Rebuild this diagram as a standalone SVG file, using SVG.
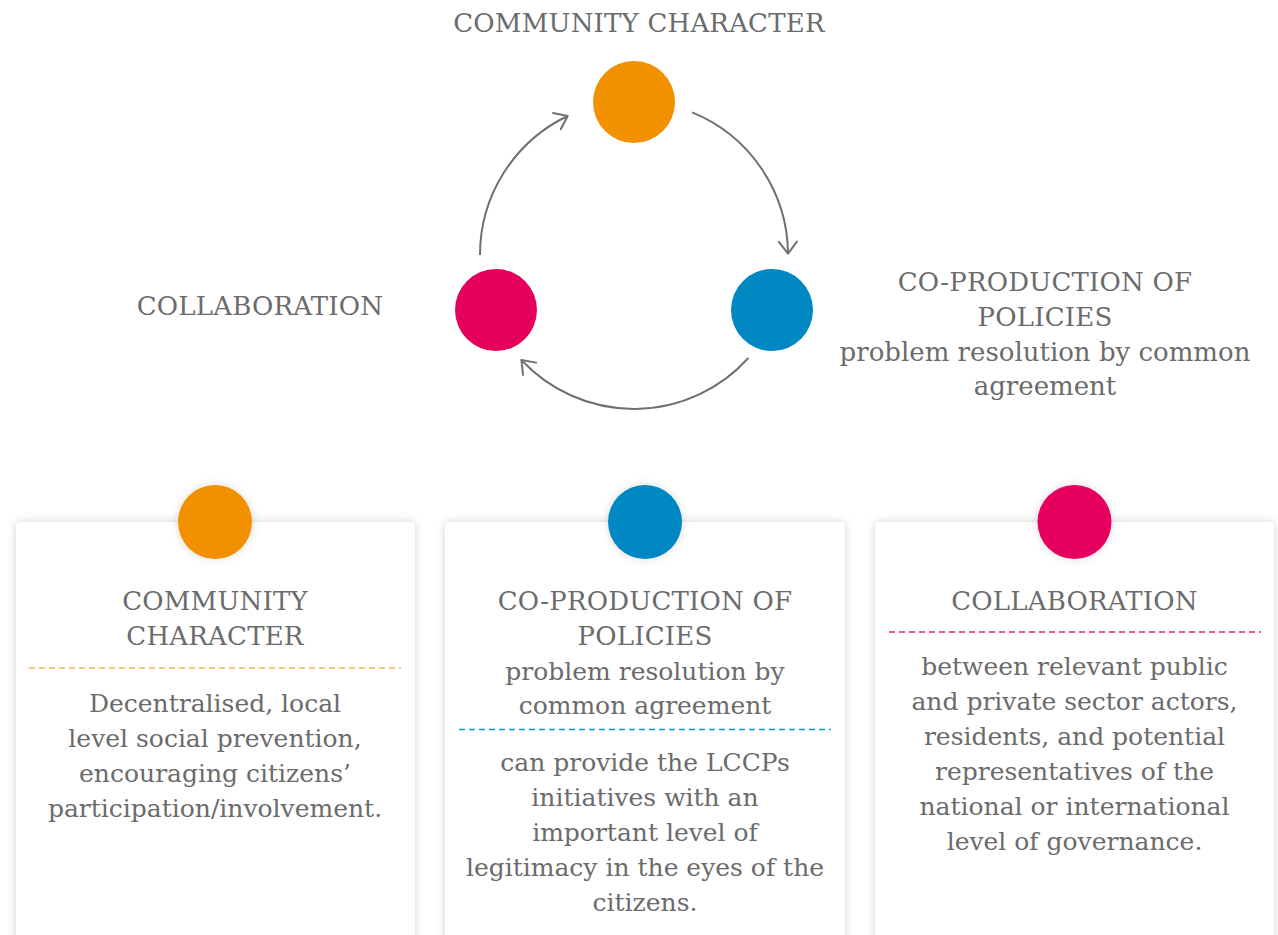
<svg xmlns="http://www.w3.org/2000/svg" width="1278" height="935" viewBox="0 0 1278 935">
  <defs>
    <style>
      .lbl { font-family: "DejaVu Serif", "Liberation Serif", serif; font-size: 26px; fill: #6b6b6b; text-anchor: middle; }
      .cap { letter-spacing: 0.2px; }
      .body { font-size: 25px; }
      .arc { fill: none; stroke: #707070; stroke-width: 2; marker-end: url(#chevron); }
      .card { fill: #ffffff; filter: url(#soft); }
      .dash { fill: none; stroke-width: 1.6; stroke-dasharray: 6 4; }
      .orange { fill: #f29100; }
      .blue { fill: #0088c2; }
      .pink { fill: #e5005e; }
    </style>
    <marker id="chevron" markerUnits="userSpaceOnUse" markerWidth="30" markerHeight="30" viewBox="-15 -15 30 30" refX="0" refY="0" orient="auto">
      <path d="M-12,-9 L0,0 L-12,9" fill="none" stroke="#707070" stroke-width="2" stroke-linecap="round" stroke-linejoin="round"/>
    </marker>
    <filter id="soft" x="-10%" y="-10%" width="120%" height="120%">
      <feDropShadow dx="0" dy="0" stdDeviation="4" flood-color="#000000" flood-opacity="0.18"/>
    </filter>
    <filter id="dotshadow" x="-30%" y="-30%" width="160%" height="160%">
      <feDropShadow dx="0" dy="0" stdDeviation="4" flood-color="#000000" flood-opacity="0.15"/>
    </filter>
  </defs>

  <!-- cycle of the three principles -->
  <g id="connectors">
    <path class="arc" d="M480,255 A154,154 0 0 1 567.7,116"/>
    <path class="arc" d="M692.2,112.4 A154,154 0 0 1 788,253.7"/>
    <path class="arc" d="M748.4,358 A154,154 0 0 1 521.4,360"/>
  </g>

  <g id="node-community">
    <circle class="orange" cx="634" cy="102" r="41"/>
    <text class="lbl cap" x="639" y="32">COMMUNITY CHARACTER</text>
  </g>
  <g id="node-coproduction">
    <circle class="blue" cx="772" cy="310" r="41"/>
    <text class="lbl cap" x="1045" y="291">CO-PRODUCTION OF</text>
    <text class="lbl cap" x="1045" y="326">POLICIES</text>
    <text class="lbl" x="1045" y="361" font-size="25.7">problem resolution by common</text>
    <text class="lbl" x="1045" y="395" font-size="25.7">agreement</text>
  </g>
  <g id="node-collaboration">
    <circle class="pink" cx="496" cy="310" r="41"/>
    <text class="lbl cap" x="260" y="315">COLLABORATION</text>
  </g>

  <!-- detail cards -->
  <g id="card-community">
    <rect class="card" x="16" y="522" width="399" height="440" rx="4"/>
    <circle class="orange" cx="215" cy="522" r="37" filter="url(#dotshadow)"/>
    <text class="lbl cap" x="215" y="610">COMMUNITY</text>
    <text class="lbl cap" x="215" y="645">CHARACTER</text>
    <line class="dash" x1="29" y1="668" x2="401" y2="668" stroke="#f6b24c"/>
    <text class="lbl body" x="215" y="712">Decentralised, local</text>
    <text class="lbl body" x="215" y="747">level social prevention,</text>
    <text class="lbl body" x="215" y="782">encouraging citizens’</text>
    <text class="lbl body" x="215" y="817">participation/involvement.</text>
  </g>

  <g id="card-coproduction">
    <rect class="card" x="445" y="522" width="400" height="440" rx="4"/>
    <circle class="blue" cx="645" cy="522" r="37" filter="url(#dotshadow)"/>
    <text class="lbl cap" x="645" y="610">CO-PRODUCTION OF</text>
    <text class="lbl cap" x="645" y="645">POLICIES</text>
    <text class="lbl body" x="645" y="680">problem resolution by</text>
    <text class="lbl body" x="645" y="714">common agreement</text>
    <line class="dash" x1="459" y1="729.5" x2="831" y2="729.5" stroke="#1296d8"/>
    <text class="lbl body" x="645" y="771">can provide the LCCPs</text>
    <text class="lbl body" x="645" y="806">initiatives with an</text>
    <text class="lbl body" x="645" y="841">important level of</text>
    <text class="lbl body" x="645" y="876">legitimacy in the eyes of the</text>
    <text class="lbl body" x="645" y="911">citizens.</text>
  </g>

  <g id="card-collaboration">
    <rect class="card" x="875" y="522" width="399" height="440" rx="4"/>
    <circle class="pink" cx="1074.5" cy="522" r="37" filter="url(#dotshadow)"/>
    <text class="lbl cap" x="1074.5" y="610">COLLABORATION</text>
    <line class="dash" x1="889" y1="632" x2="1261" y2="632" stroke="#ec1f77"/>
    <text class="lbl body" x="1074.5" y="675">between relevant public</text>
    <text class="lbl body" x="1074.5" y="710">and private sector actors,</text>
    <text class="lbl body" x="1074.5" y="745">residents, and potential</text>
    <text class="lbl body" x="1074.5" y="780">representatives of the</text>
    <text class="lbl body" x="1074.5" y="815">national or international</text>
    <text class="lbl body" x="1074.5" y="850">level of governance.</text>
  </g>
</svg>
